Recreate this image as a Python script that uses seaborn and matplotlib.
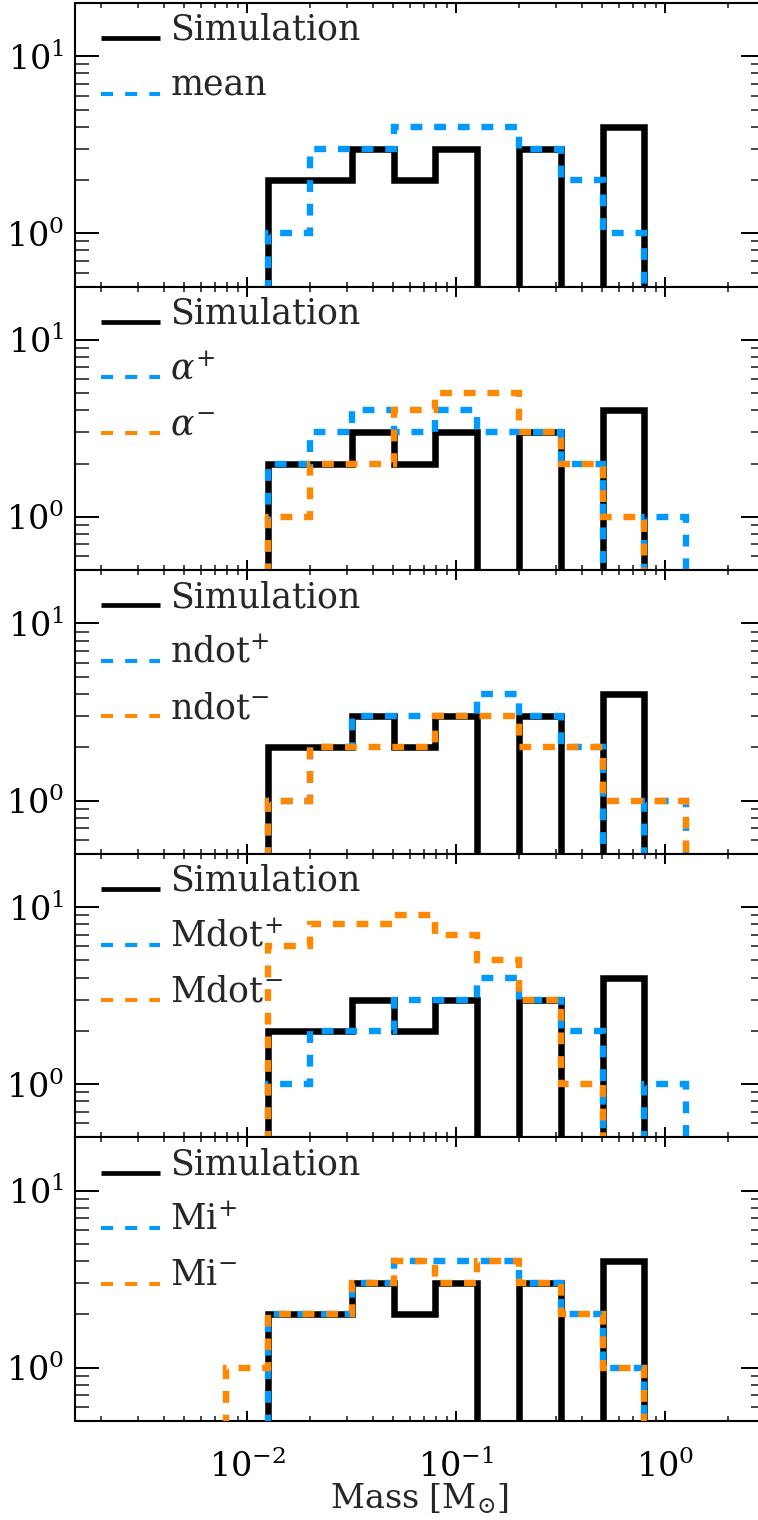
import numpy as np
import pandas as pd
import matplotlib
matplotlib.use("Agg")
import matplotlib.pyplot as plt
import seaborn as sns
from matplotlib.lines import Line2D
from matplotlib.legend_handler import HandlerLine2D
from matplotlib.ticker import LogLocator, NullFormatter

# ---------------- data ----------------
bin_edges = [0.00794, 0.0126, 0.0200, 0.0316, 0.0501, 0.0794,
             0.126, 0.200, 0.316, 0.501, 0.794, 1.26]

simulation  = [0, 2, 2, 3, 2, 3, 0, 3, 0, 4, 0]
mean_counts = [0, 1, 3, 3, 4, 4, 4, 3, 2, 1, 0]
alpha_plus  = [0, 2, 3, 4, 3, 4, 3, 3, 2, 0, 1]
alpha_minus = [0, 1, 2, 2, 4, 5, 5, 3, 2, 1, 0]
ndot_plus   = [0, 1, 2, 3, 3, 3, 4, 3, 2, 0, 1]
ndot_minus  = [0, 1, 2, 2, 2, 3, 3, 2, 2, 1, 1]
mdot_plus   = [0, 1, 2, 2, 3, 3, 4, 3, 2, 0, 1]
mdot_minus  = [0, 6, 8, 8, 9, 7, 5, 3, 1, 0, 0]
mi_plus     = [0, 2, 2, 3, 4, 4, 4, 3, 2, 1, 0]
mi_minus    = [1, 2, 2, 3, 4, 3, 4, 3, 2, 1, 0]

panel_labels = [
    ["Simulation", "mean"],
    ["Simulation", r"$\alpha^{+}$", r"$\alpha^{-}$"],
    ["Simulation", r"ndot$^{+}$", r"ndot$^{-}$"],
    ["Simulation", r"Mdot$^{+}$", r"Mdot$^{-}$"],
    ["Simulation", r"Mi$^{+}$", r"Mi$^{-}$"],
]
panel_series = [
    [simulation, mean_counts],
    [simulation, alpha_plus, alpha_minus],
    [simulation, ndot_plus, ndot_minus],
    [simulation, mdot_plus, mdot_minus],
    [simulation, mi_plus, mi_minus],
]
xtick_values = [1e-2, 1e-1, 1e0]
ytick_values = [1e0, 1e1]
x_label = r"Mass $[\mathrm{M}_{\odot}]$"

# ---------------- style ----------------
sns.set_theme(style="ticks")
plt.rcParams["font.family"] = ["DejaVu Serif", "DejaVu Sans"]
plt.rcParams["mathtext.fontset"] = "dejavuserif"

BLACK = "#000000"
BLUE = "#0099FF"
ORANGE = "#FF8800"
colors = [BLACK, BLUE, ORANGE]
FS = 24
LFS = 25


def outline(edges, counts):
    xs = [edges[0]]
    ys = [0]
    for i, c in enumerate(counts):
        xs += [edges[i], edges[i + 1]]
        ys += [c, c]
    xs.append(edges[-1])
    ys.append(0)
    return pd.DataFrame({"mass": xs, "count": ys})


class ShiftedLine(HandlerLine2D):
    def create_artists(self, legend, orig_handle, xdescent, ydescent,
                       width, height, fontsize, trans):
        arts = super().create_artists(legend, orig_handle, xdescent, ydescent,
                                      width, height, fontsize, trans)
        for a in arts:
            a.set_ydata(np.asarray(a.get_ydata(), dtype=float) - 0.3 * fontsize)
        return arts


fig = plt.figure(figsize=(7.58, 15.2), dpi=100)
L = 75 / 758
W = 690 / 758
PH = 283.6
H = PH / 1520

for i, (series, labels) in enumerate(zip(panel_series, panel_labels)):
    top = 3 + i * PH
    ax = fig.add_axes([L, 1 - (top + PH) / 1520, W, H])
    ax.set_facecolor("white")
    for j, counts in enumerate(series):
        df = outline(bin_edges, counts)
        if j == 0:
            sns.lineplot(data=df, x="mass", y="count", estimator=None, sort=False,
                         color=BLACK, lw=4.7, legend=False, ax=ax,
                         solid_joinstyle="miter", solid_capstyle="butt", zorder=2)
        else:
            sns.lineplot(data=df, x="mass", y="count", estimator=None, sort=False,
                         color=colors[j], lw=4.6, legend=False, ax=ax,
                         linestyle=(0, (1.85, 1.85)), dash_joinstyle="miter",
                         dash_capstyle="butt", zorder=2 + j)
    ax.set_xscale("log")
    ax.set_yscale("log")
    ax.set_xlim(1.5e-3, 3.0)
    ax.set_ylim(0.5, 20)
    ax.set_xticks(xtick_values)
    ax.set_yticks(ytick_values)
    ax.xaxis.set_minor_locator(LogLocator(base=10, subs=np.arange(2, 10), numticks=20))
    ax.yaxis.set_minor_locator(LogLocator(base=10, subs=np.arange(2, 10), numticks=20))
    ax.xaxis.set_minor_formatter(NullFormatter())
    ax.yaxis.set_minor_formatter(NullFormatter())
    for s in ax.spines.values():
        s.set_linewidth(1.5)
        s.set_color("black")
        s.set_visible(True)
    ax.tick_params(axis="y", which="major", direction="in", length=17, width=1.4,
                   left=True, right=True, labelsize=FS, pad=8, colors="black")
    ax.tick_params(axis="y", which="minor", direction="in", length=10, width=1.2,
                   left=True, right=True)
    ax.tick_params(axis="x", which="major", direction="in", length=7.5, width=1.4,
                   bottom=True, top=True, labelsize=FS, pad=21, colors="black")
    ax.tick_params(axis="x", which="minor", direction="in", length=3.6, width=1.2,
                   bottom=True, top=True)
    ax.set_ylabel("")
    if i < 4:
        ax.tick_params(axis="x", labelbottom=False)
        ax.set_xlabel("")
    else:
        ax.set_xlabel(x_label, fontsize=FS, labelpad=-2)

    handles = [Line2D([], [], color=BLACK, lw=3.4, solid_capstyle="butt")]
    for j in range(1, len(series)):
        handles.append(Line2D([], [], color=colors[j], lw=2.9,
                              linestyle=(0, (3, 3)), dash_capstyle="butt"))
    ax.legend(handles, labels, loc="upper left", bbox_to_anchor=(0.037, 0.965),
              frameon=False, fontsize=LFS, handlelength=1.72, handletextpad=0.29,
              labelspacing=0.62, borderpad=0, borderaxespad=0,
              handler_map={Line2D: ShiftedLine()})

fig.savefig("out.png", dpi=100, facecolor="white")
